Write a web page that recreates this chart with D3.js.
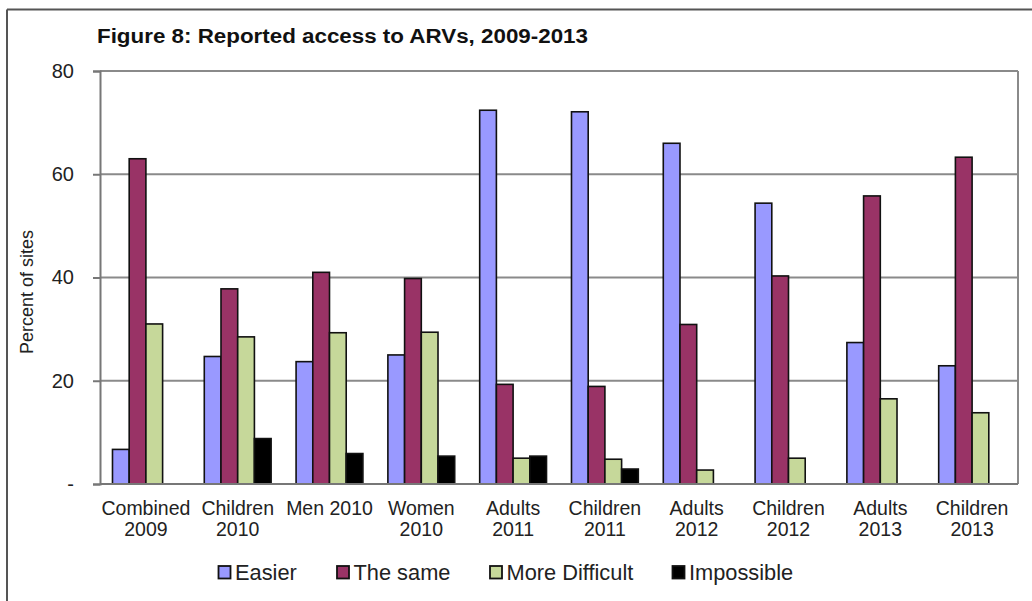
<!DOCTYPE html>
<html>
<head>
<meta charset="utf-8">
<script src="https://cdn.jsdelivr.net/npm/d3@7"></script>
<style>
  html, body { margin: 0; padding: 0; background: #fff; }
  svg { display: block; font-family: "Liberation Sans", Arial, sans-serif; }
</style>
</head>
<body>
<svg id="chart" width="1032" height="601"></svg>
<script>
// Reported access to ARVs, percent of sites per survey group
const categories = ["Combined 2009", "Children 2010", "Men 2010", "Women 2010", "Adults 2011",
                    "Children 2011", "Adults 2012", "Children 2012", "Adults 2013", "Children 2013"];
const categoryLines = [["Combined", "2009"], ["Children", "2010"], ["Men 2010"], ["Women", "2010"],
                       ["Adults", "2011"], ["Children", "2011"], ["Adults", "2012"], ["Children", "2012"],
                       ["Adults", "2013"], ["Children", "2013"]];
const seriesNames = ["Easier", "The same", "More Difficult", "Impossible"];
const easier        = [6.7, 24.7, 23.7, 25.0, 72.4, 72.1, 66.0, 54.4, 27.4, 22.9];
const theSame       = [63.0, 37.8, 41.0, 39.8, 19.3, 18.9, 30.9, 40.3, 55.8, 63.3];
const moreDifficult = [31.0, 28.5, 29.3, 29.4, 5.0, 4.8, 2.7, 5.0, 16.5, 13.8];
const impossible    = [0, 8.8, 5.9, 5.4, 5.4, 2.9, 0, 0, 0, 0];
const yTicks = [0, 20, 40, 60, 80];
const yTickLabels = ["-", "20", "40", "60", "80"];
const seriesColors = ["#9999FF", "#993366", "#C6D89A", "#000000"];

const seriesValues = [easier, theSame, moreDifficult, impossible];
const rows = categories.map((c, i) => ({
  category: c,
  values: seriesNames.map((s, k) => ({ series: s, value: seriesValues[k][i] }))
}));

const svg = d3.select("#chart");
const plot = { left: 100, right: 1018, top: 71, bottom: 484 };

// outer frame: top and left edges
svg.append("line").attr("x1", 7).attr("x2", 1032).attr("y1", 9.5).attr("y2", 9.5)
  .attr("stroke", "#555").attr("stroke-width", 2);
svg.append("line").attr("x1", 7).attr("x2", 7).attr("y1", 9.5).attr("y2", 601)
  .attr("stroke", "#555").attr("stroke-width", 2);

// title
svg.append("text")
  .attr("x", 97).attr("y", 43)
  .attr("font-size", 20).attr("font-weight", "bold").attr("fill", "#111")
  .attr("textLength", 491).attr("lengthAdjust", "spacingAndGlyphs")
  .text("Figure 8: Reported access to ARVs, 2009-2013");

const x0 = d3.scaleBand().domain(categories).range([plot.left, plot.right])
  .paddingInner(0.272).paddingOuter(0.136);
const x1 = d3.scaleBand().domain(seriesNames).range([0, x0.bandwidth()]);
const y = d3.scaleLinear().domain([0, 80]).range([plot.bottom, plot.top]);

// gridlines
svg.append("g").selectAll("line").data(yTicks.filter(t => t > 0)).join("line")
  .attr("x1", plot.left).attr("x2", plot.right)
  .attr("y1", d => y(d)).attr("y2", d => y(d))
  .attr("stroke", "#8a8a8a").attr("stroke-width", 2);
// right border of plot area
svg.append("line").attr("x1", plot.right).attr("x2", plot.right)
  .attr("y1", plot.top).attr("y2", plot.bottom)
  .attr("stroke", "#8a8a8a").attr("stroke-width", 2);

// y axis
const yAxis = d3.axisLeft(y).tickValues(yTicks).tickSize(7).tickPadding(19)
  .tickFormat((d, i) => yTickLabels[i]);
const gy = svg.append("g").attr("transform", `translate(${plot.left},0)`).call(yAxis);
gy.select(".domain").attr("stroke", "#777").attr("stroke-width", 2);
gy.selectAll(".tick line").attr("stroke", "#777").attr("stroke-width", 2);
gy.selectAll(".tick text").attr("font-size", 20).attr("fill", "#222")
  .attr("font-family", "Liberation Sans, Arial, sans-serif");

// bars
const groups = svg.append("g").selectAll("g").data(rows).join("g")
  .attr("transform", d => `translate(${x0(d.category)},0)`);
groups.selectAll("rect").data(d => d.values.filter(v => v.value > 0)).join("rect")
  .attr("x", d => x1(d.series))
  .attr("y", d => y(d.value))
  .attr("width", x1.bandwidth())
  .attr("height", d => y(0) - y(d.value))
  .attr("fill", d => seriesColors[seriesNames.indexOf(d.series)])
  .attr("stroke", "#111").attr("stroke-width", 1.6);

// x axis baseline
svg.append("line").attr("x1", plot.left).attr("x2", plot.right)
  .attr("y1", plot.bottom).attr("y2", plot.bottom)
  .attr("stroke", "#777").attr("stroke-width", 2);

// category labels
const xl = svg.append("g").selectAll("text").data(categories).join("text")
  .attr("x", d => x0(d) + x0.bandwidth() / 2)
  .attr("y", 515)
  .attr("text-anchor", "middle").attr("font-size", 19.5).attr("fill", "#222");
xl.each(function(d, i) {
  const t = d3.select(this);
  categoryLines[i].forEach((line, j) => {
    t.append("tspan").attr("x", x0(d) + x0.bandwidth() / 2).attr("dy", j === 0 ? 0 : 21).text(line);
  });
});

// y axis title
svg.append("text")
  .attr("transform", "translate(33,292) rotate(-90)")
  .attr("text-anchor", "middle").attr("font-size", 18).attr("fill", "#222")
  .text("Percent of sites");

// legend
const legendX = [218.5, 337, 490, 672.5];
const leg = svg.append("g").selectAll("g").data(seriesNames).join("g")
  .attr("transform", (d, i) => `translate(${legendX[i]},566)`);
leg.append("rect").attr("width", 12).attr("height", 12.5)
  .attr("fill", (d, i) => seriesColors[i]).attr("stroke", "#111").attr("stroke-width", 1.8);
leg.append("text").attr("x", 16.5).attr("y", 14)
  .attr("font-size", 21.8).attr("fill", "#222").text(d => d);
</script>
</body>
</html>
